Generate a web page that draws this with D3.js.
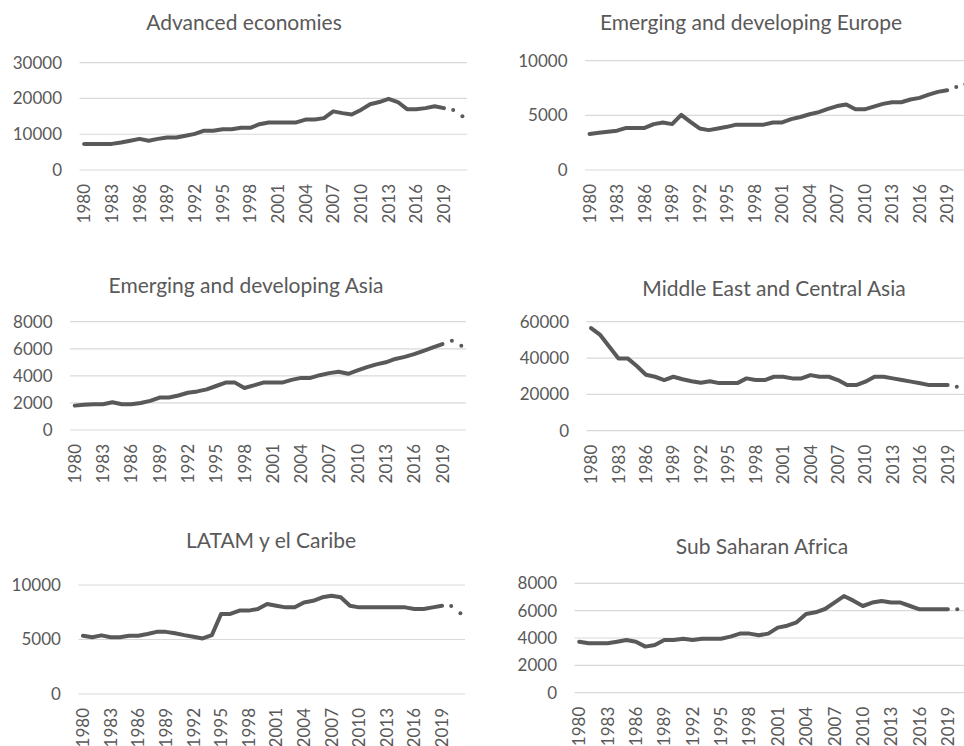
<!DOCTYPE html>
<html>
<head>
<meta charset="utf-8">
<script src="https://cdn.jsdelivr.net/npm/d3@7"></script>
<style>
  html, body { margin: 0; padding: 0; background: #fff; overflow: hidden; }
  svg { display: block; }
  text { font-family: Lato, "Open Sans", sans-serif; fill: #595959; }
</style>
</head>
<body>
<svg id="chart" width="964" height="746"></svg>
<script>
// ---- Data ----
const years = [1980,1981,1982,1983,1984,1985,1986,1987,1988,1989,
               1990,1991,1992,1993,1994,1995,1996,1997,1998,1999,
               2000,2001,2002,2003,2004,2005,2006,2007,2008,2009,
               2010,2011,2012,2013,2014,2015,2016,2017,2018,2019,
               2020,2021];
const tickYears = [1980,1983,1986,1989,1992,1995,1998,2001,2004,2007,2010,2013,2016,2019];
const forecastYears = [2020, 2021];

const titles = ["Advanced economies", "Emerging and developing Europe", "Emerging and developing Asia",
                "Middle East and Central Asia", "LATAM y el Caribe", "Sub Saharan Africa"];

const advanced = [7300,7300,7300,7300,7700,8200,8700,8200,8700,9100,
                  9100,9600,10100,11000,11000,11400,11400,11800,11800,12800,
                  13300,13300,13300,13300,14100,14100,14500,16400,15900,15500,
                  16800,18400,19000,19900,19000,17000,17000,17300,17800,17300];
const advancedF = [16800, 15000];

const europe = [3300,3400,3500,3600,3850,3850,3850,4200,4350,4200,
                5050,4400,3800,3650,3800,3950,4150,4150,4150,4150,
                4350,4350,4650,4850,5100,5300,5600,5850,6000,5550,
                5550,5800,6050,6200,6200,6450,6600,6900,7150,7300];
const europeF = [7600, 7850];

const asia = [1800,1870,1900,1900,2050,1900,1900,2000,2150,2400,
              2400,2550,2750,2850,3000,3250,3500,3500,3100,3300,
              3500,3500,3500,3700,3850,3850,4050,4200,4300,4150,
              4400,4650,4850,5000,5250,5400,5600,5850,6100,6350];
const asiaF = [6600, 6230];

const mideast = [56500,52700,46200,39800,39800,35600,30800,29700,27900,29700,
                 28300,27200,26400,27200,26200,26200,26200,28800,27900,27900,
                 29700,29700,28800,28800,30600,29700,29700,27900,25100,25100,
                 27000,29700,29700,28800,27900,27000,26100,25100,25100,25100];
const mideastF = [24200, 23500];

const latam = [5350,5200,5380,5200,5200,5350,5350,5500,5700,5700,
               5570,5400,5260,5100,5400,7340,7340,7650,7650,7800,
               8250,8100,7950,7950,8400,8550,8870,9020,8870,8100,
               7950,7950,7950,7950,7950,7950,7800,7800,7950,8100];
const latamF = [8070, 7400];

const ssa = [3730,3610,3610,3610,3730,3850,3730,3370,3490,3850,
             3850,3950,3850,3950,3950,3950,4100,4320,4320,4200,
             4320,4760,4900,5150,5760,5880,6120,6590,7070,6730,
             6340,6590,6710,6590,6590,6340,6100,6100,6100,6100];
const ssaF = [6100, 5700];

const yTicks = [
  [0,10000,20000,30000],
  [0,5000,10000],
  [0,2000,4000,6000,8000],
  [0,20000,40000,60000],
  [0,5000,10000],
  [0,2000,4000,6000,8000]
];
const seriesList = [advanced, europe, asia, mideast, latam, ssa];
const forecastList = [advancedF, europeF, asiaF, mideastF, latamF, ssaF];

// ---- Layout (pixels) ----
const layout = [
  {x0: 79.5, x1: 467,   yTop: 62.7,  yBot: 170,   tx: 244, ty: 30},
  {x0: 585,  x1: 970,   yTop: 60.7,  yBot: 170,   tx: 751, ty: 30},
  {x0: 70,   x1: 466,   yTop: 321.7, yBot: 430,   tx: 246, ty: 293},
  {x0: 586.5,x1: 970.5, yTop: 321.7, yBot: 430.7, tx: 774, ty: 296},
  {x0: 78.4, x1: 465,   yTop: 585,   yBot: 694,   tx: 271, ty: 548},
  {x0: 574.5,x1: 971.5, yTop: 583.3, yBot: 692.7, tx: 762, ty: 554}
];

const svg = d3.select("#chart");
const lineColor = "#595959";

layout.forEach((L, i) => {
  const g = svg.append("g");
  const ticks = yTicks[i];
  const x = d3.scaleBand().domain(years).range([L.x0, L.x1]);
  const y = d3.scaleLinear().domain([0, d3.max(ticks)]).range([L.yBot, L.yTop]);
  const cx = d => x(d) + x.bandwidth() / 2;

  // gridlines
  g.selectAll("line.grid").data(ticks).join("line")
    .attr("x1", L.x0).attr("x2", L.x1)
    .attr("y1", d => y(d)).attr("y2", d => y(d))
    .attr("stroke", "#d9d9d9").attr("stroke-width", 1.2);

  // y axis labels
  const yAxis = d3.axisLeft(y).tickValues(ticks).tickSize(0).tickPadding(0).tickFormat(d3.format("d"));
  const ya = g.append("g").attr("transform", `translate(${L.x0 - 17.5},0)`).call(yAxis);
  ya.select(".domain").remove();
  ya.selectAll("text").attr("font-size", 17).attr("fill", "#595959")
    .style("font-family", "Lato, sans-serif");

  // x axis labels (rotated)
  const xAxis = d3.axisBottom(x).tickValues(tickYears).tickSize(0).tickPadding(0);
  const xa = g.append("g").attr("transform", `translate(0,${L.yBot})`).call(xAxis);
  xa.select(".domain").remove();
  xa.selectAll("text")
    .attr("font-size", 17).attr("fill", "#595959")
    .style("font-family", "Lato, sans-serif")
    .attr("transform", "rotate(-90)")
    .attr("text-anchor", "end")
    .attr("x", -14).attr("y", 0).attr("dy", "0.36em");

  // main line
  const data = seriesList[i].map((v, k) => ({year: years[k], v}));
  const line = d3.line().x(d => cx(d.year)).y(d => y(d.v));
  g.append("path").datum(data)
    .attr("d", line)
    .attr("fill", "none").attr("stroke", lineColor)
    .attr("stroke-width", 4).attr("stroke-linejoin", "round").attr("stroke-linecap", "round");

  // forecast dots
  const fdata = forecastList[i].map((v, k) => ({year: forecastYears[k], v}));
  g.selectAll("circle.f").data(fdata).join("circle")
    .attr("cx", d => cx(d.year)).attr("cy", d => y(d.v))
    .attr("r", 2).attr("fill", lineColor);

  // title
  g.append("text").attr("x", L.tx).attr("y", L.ty)
    .attr("text-anchor", "middle").attr("font-size", 21)
    .text(titles[i]);
});
</script>
</body>
</html>
